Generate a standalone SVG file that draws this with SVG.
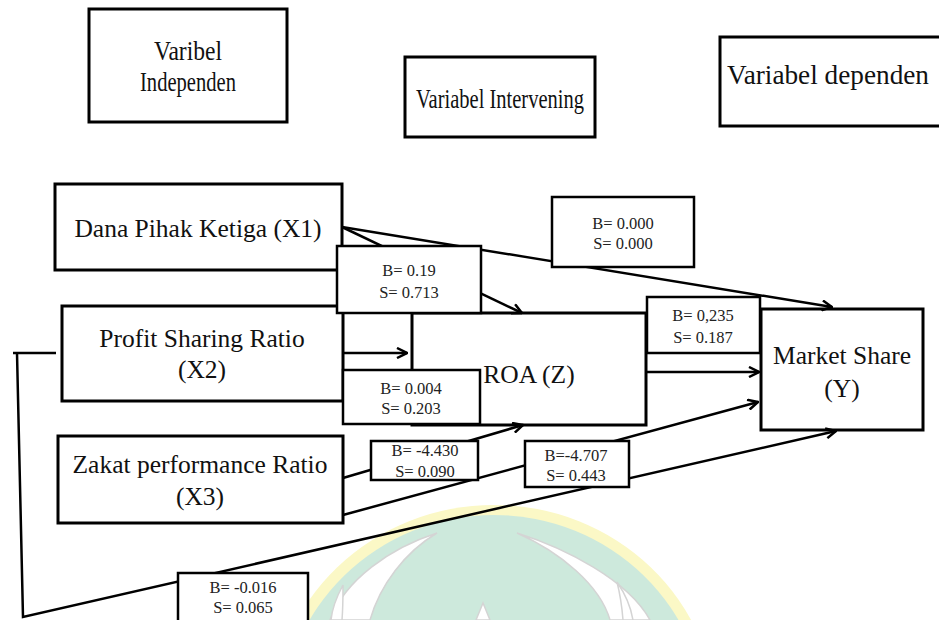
<svg xmlns="http://www.w3.org/2000/svg" width="939" height="620" viewBox="0 0 939 620">
<style>
.box{fill:#fff;stroke:#000;stroke-width:3}
.lbl{fill:#fff;stroke:#000;stroke-width:2.5}
.t{font-family:"Liberation Serif","Times New Roman",serif;font-size:25.5px;fill:#111;text-anchor:middle}
.h{font-family:"Liberation Serif","Times New Roman",serif;font-size:27px;fill:#111;text-anchor:start}
.s{font-family:"Liberation Serif","Times New Roman",serif;font-size:16.5px;fill:#222;text-anchor:middle}
.c{fill:none;stroke:#000;stroke-width:2.5}
.wm{fill:#fff;stroke:#d4d4d4;stroke-width:1.5}
</style>
<defs>
<marker id="arr" viewBox="0 0 12 12" refX="11" refY="6" markerWidth="12" markerHeight="12" orient="auto" markerUnits="userSpaceOnUse">
<path d="M1,1 L11,6 L1,11" fill="none" stroke="#000" stroke-width="2.5"/>
</marker>
</defs>
<rect width="939" height="620" fill="#fff"/>
<g id="watermark">
<ellipse cx="494" cy="718" rx="222" ry="213" fill="#fbf8c6"/>
<ellipse cx="494" cy="722" rx="212" ry="207" fill="#cde9dc"/>
<path class="wm" d="M437,533 C390,548 345,580 330,620 L370,620 C380,585 405,552 437,533 Z"/>
<path class="wm" d="M517,533 C565,548 628,580 650,620 L610,620 C600,585 560,552 517,533 Z"/>
<path class="wm" d="M343,585 C336,598 332,610 331,620 L342,620 C343,608 343,596 343,585 Z"/>
<path class="wm" d="M617,582 C626,595 631,608 633,620 L623,620 C622,607 620,594 617,582 Z"/>
<path class="wm" d="M483,603 L476,620 L490,620 Z"/>
</g>
<g id="hdr-independen">
<rect class="box" x="89" y="9" width="198" height="113"/>
<text class="h" x="154" y="60" textLength="68" lengthAdjust="spacingAndGlyphs">Varibel</text>
<text class="h" x="140" y="91" textLength="96" lengthAdjust="spacingAndGlyphs">Independen</text>
</g>
<g id="hdr-intervening">
<rect class="box" x="405" y="57" width="190" height="80"/>
<text class="h" x="416" y="108" textLength="168" lengthAdjust="spacingAndGlyphs">Variabel Intervening</text>
</g>
<g id="hdr-dependen">
<rect class="box" x="720" y="37" width="230" height="89"/>
<text class="h" x="727" y="84" textLength="202" lengthAdjust="spacingAndGlyphs">Variabel dependen</text>
</g>
<g id="x1">
<rect class="box" x="55" y="184" width="287" height="86"/>
<text class="t" x="198" y="237">Dana Pihak Ketiga (X1)</text>
</g>
<g id="x2">
<rect class="box" x="62" y="306" width="281" height="95"/>
<text class="t" x="202" y="347">Profit Sharing Ratio</text>
<text class="t" x="202" y="378">(X2)</text>
</g>
<g id="x3">
<rect class="box" x="58" y="436" width="285" height="87"/>
<text class="t" x="200" y="473">Zakat performance Ratio</text>
<text class="t" x="200" y="505">(X3)</text>
</g>
<g id="z">
<rect class="box" x="412" y="313" width="234" height="112"/>
<text class="t" x="529" y="383">ROA (Z)</text>
</g>
<g id="y">
<rect class="box" x="761" y="309" width="162" height="121"/>
<text class="t" x="842" y="364">Market Share</text>
<text class="t" x="842" y="397">(Y)</text>
</g>
<g id="connectors">
<path class="c" d="M342,227 L832,307" marker-end="url(#arr)"/>
<path class="c" d="M342,227 L522,313" marker-end="url(#arr)"/>
<path class="c" d="M343,353 L407,353" marker-end="url(#arr)"/>
<path class="c" d="M646,372 L759,372" marker-end="url(#arr)"/>
<path class="c" d="M343,478 L523,425" marker-end="url(#arr)"/>
<path class="c" d="M343,515 L758,402" marker-end="url(#arr)"/>
<path class="c" d="M13,353 L56,353"/>
<path class="c" d="M17,353 L23,617 L836,431" marker-end="url(#arr)"/>
</g>
<g id="labels">
<g id="l-x1-z">
<rect class="lbl" x="337" y="246" width="144" height="67"/>
<text class="s" x="409" y="276">B= 0.19</text>
<text class="s" x="409" y="298">S= 0.713</text>
</g>
<g id="l-x1-y">
<rect class="lbl" x="552" y="197" width="142" height="70"/>
<text class="s" x="623" y="229">B= 0.000</text>
<text class="s" x="623" y="249">S= 0.000</text>
</g>
<g id="l-z-y">
<rect class="lbl" x="647" y="297" width="113" height="56"/>
<text class="s" x="703" y="321">B= 0,235</text>
<text class="s" x="703" y="343">S= 0.187</text>
</g>
<g id="l-x2-z">
<rect class="lbl" x="343" y="370" width="137" height="54"/>
<text class="s" x="411" y="394">B= 0.004</text>
<text class="s" x="411" y="414">S= 0.203</text>
</g>
<g id="l-x3-z">
<rect class="lbl" x="371" y="441" width="107" height="39"/>
<text class="s" x="425" y="456">B= -4.430</text>
<text class="s" x="425" y="477">S= 0.090</text>
</g>
<g id="l-x3-y">
<rect class="lbl" x="525" y="441" width="104" height="46"/>
<text class="s" x="576" y="461">B=-4.707</text>
<text class="s" x="576" y="481">S= 0.443</text>
</g>
<g id="l-x2-y">
<rect class="lbl" x="178" y="573" width="130" height="60"/>
<text class="s" x="243" y="593">B= -0.016</text>
<text class="s" x="243" y="613">S= 0.065</text>
</g>
</g>
</svg>
